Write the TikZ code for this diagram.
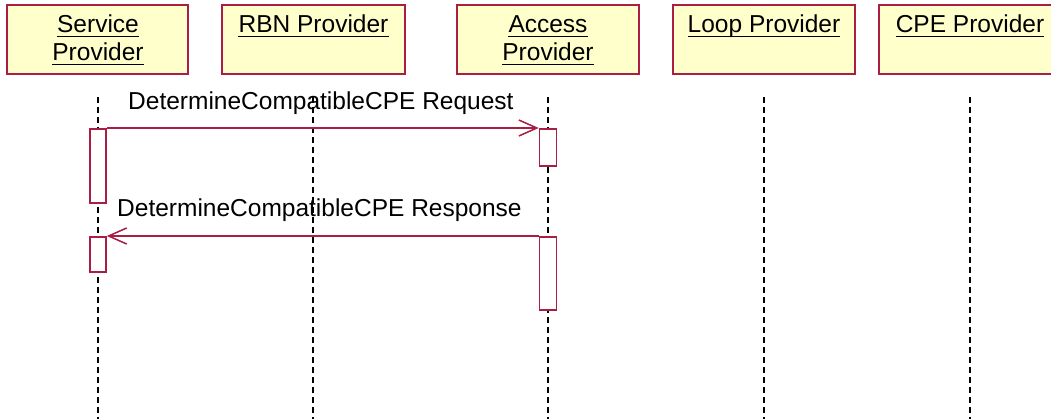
\documentclass[tikz,border=0pt]{standalone}
\usepackage{fontspec}
\setmainfont{Liberation Sans}
\usetikzlibrary{arrows.meta}
\definecolor{uml}{RGB}{170,30,70}
\definecolor{umlfill}{RGB}{255,255,204}
\begin{document}
\begin{tikzpicture}[x=1pt,y=-1pt,
  actor/.style={draw=uml, fill=umlfill, line width=2pt, minimum width=182pt, minimum height=69pt, inner sep=0pt},
  pname/.style={font=\fontsize{24.5}{28}\selectfont, inner sep=0pt, anchor=base},
  ulin/.style={line width=1.3pt, black},
  life/.style={black, line width=1.5pt, dash pattern=on 6pt off 4pt},
  act/.style={draw=uml, fill=white, line width=1.6pt, minimum width=16pt, inner sep=0pt, anchor=north},
  msg/.style={font=\fontsize{24.5}{28}\selectfont, inner sep=0pt, anchor=base west},
  call/.style={draw=uml, line width=1.6pt, -{Straight Barb[length=18pt,width=16pt,line width=1.5pt]}}
]
\useasboundingbox (0,0) rectangle (1051,419);
\clip (0,0) rectangle (1051,419);

% participant boxes
\node[actor, minimum width=181pt] (sp) at (97.5,39.5) {};
\node[actor, minimum width=183pt] (rbn) at (313.5,39.5) {};
\node[actor] (ap) at (548,39.5) {};
\node[actor] (lp) at (764,39.5) {};
\node[actor] (cpe) at (970,39.5) {};

% names
\node[pname] (sp1) at (98,33) {Service};
\node[pname] (sp2) at (98,61) {Provider};
\node[pname] (rbn1) at (313.5,33) {RBN Provider};
\node[pname] (ap1) at (548,33) {Access};
\node[pname] (ap2) at (548,61) {Provider};
\node[pname] (lp1) at (764,33) {Loop Provider};
\node[pname] (cpe1) at (970,33) {CPE Provider};
\foreach \n in {sp1,sp2,rbn1,ap1,ap2,lp1,cpe1}
  \draw[ulin] ([yshift=-3.5pt]\n.base west) -- ([yshift=-3.5pt]\n.base east);

% lifelines
\foreach \n/\x in {l1/98,l2/313,l3/548,l4/764,l5/970}{
  \coordinate (\n t) at (\x,97);
  \coordinate (\n b) at (\x,419);
  \draw[life] (\n t) -- (\n b);
}

% message labels
\node[msg] (m1) at (128,110) {DetermineCompatibleCPE Request};
\node[msg] (m2) at (117,217) {DetermineCompatibleCPE Response};

% activations
\node[act, minimum height=74pt] (a1) at (98,128) {};
\node[act, minimum height=37pt, minimum width=17pt] (a2) at (548,128) {};
\node[act, minimum height=35pt] (a3) at (98,236) {};
\node[act, minimum height=73pt, minimum width=17pt] (a4) at (548,236) {};

% messages
\draw[call] (a1.north east) -- (a2.north west);
\draw[call] (a4.north west) -- (a3.north east);
\end{tikzpicture}
\end{document}
